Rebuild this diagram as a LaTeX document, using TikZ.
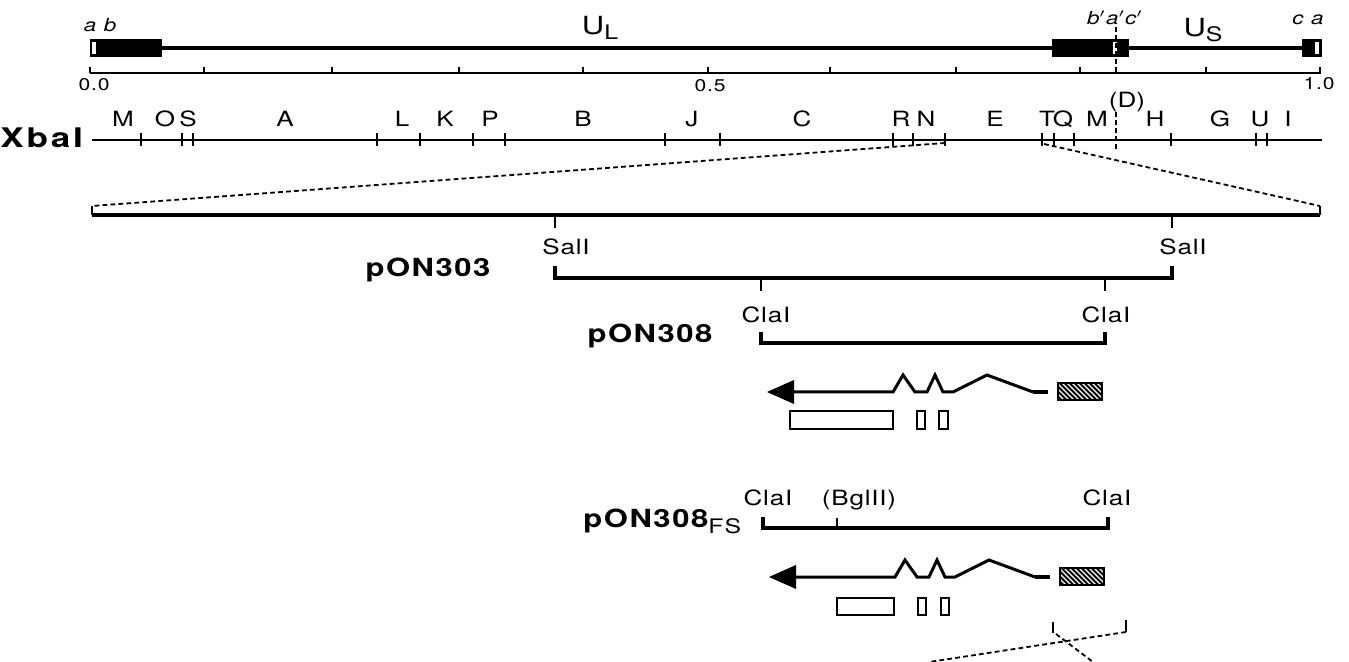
\documentclass[tikz,border=0pt]{standalone}
\usepackage{fontspec}
\setmainfont{TeX Gyre Heros}
% wide, old-style lettering
\newcommand\stretchtxt[1]{\scalebox{1.24}[1]{#1}}
\begin{document}
\begin{tikzpicture}[x=0.5pt,y=-0.5pt,
  txt/.style={inner sep=0pt, anchor=base, font=\fontsize{10.5}{12}\selectfont\addfontfeatures{LetterSpace=3}},
  maplbl/.style={inner sep=0pt, anchor=base, font=\fontsize{10.5}{12}\selectfont},
  boldlbl/.style={inner sep=0pt, anchor=base, font=\fontsize{12.5}{14}\selectfont\bfseries\addfontfeatures{LetterSpace=5}},
  scalelbl/.style={inner sep=0pt, anchor=base, font=\fontsize{8.5}{10}\selectfont\addfontfeatures{LetterSpace=4}},
  region/.style={inner sep=0pt, anchor=base, font=\fontsize{12.5}{14}\selectfont},
  seg/.style={inner sep=0pt, anchor=base, font=\fontsize{9}{11}\selectfont\itshape\addfontfeatures{LetterSpace=6}},
  bar/.style={line width=2.1pt},
  ruler/.style={line width=1pt},
  tick/.style={line width=1pt},
  clone/.style={line width=1.8pt},
  guide/.style={line width=0.9pt, dash pattern=on 2.4pt off 1.6pt},
  exon/.style={draw, line width=0.9pt, fill=white},
  mrna/.style={line width=1.5pt, line join=miter},
]
\useasboundingbox (0,0) rectangle (1349,662);

% ---------------- genome: U_L, U_S and the repeats ----------------
\fill (90,39) rectangle (162,57);
\filldraw[fill=white, draw=black, line width=0.5pt] (91.5,41.5) rectangle (96,55);
\fill (1052,39) rectangle (1129,57);
\fill[white] (1113,42) rectangle (1117,54);
\fill (1302,39) rectangle (1322,57);
\fill[white] (1315,42) rectangle (1319,54);
\coordinate (ulL) at (162,48); \coordinate (ulR) at (1052,48);
\coordinate (usL) at (1129,48); \coordinate (usR) at (1302,48);
\draw[bar] (ulL) -- (ulR);
\draw[bar] (usL) -- (usR);

\node[seg] (ab) at (100,32) {\stretchtxt{a b}};
\node[seg] (bac) at (1115,25) {\stretchtxt{b$'$a$'$c$'$}};
\node[seg] (ca) at (1308,25) {\stretchtxt{c a}};
\node[region] (UL) at (600,35) {\stretchtxt{U\raisebox{-0.35ex}{\fontsize{10}{12}\selectfont L}}};
\node[region] (US) at (1203,37) {\stretchtxt{U\raisebox{-0.35ex}{\fontsize{10}{12}\selectfont S}}};

% map units
\coordinate (r0) at (90,73); \coordinate (r1) at (1321,73);
\draw[ruler] (r0) -- (r1);
\foreach \x in {90,204,332,459,583,708,830,956,1080,1206,1320}
  \draw[tick] (\x,73) -- (\x,67);
\node[scalelbl] (s0) at (94,91) {\stretchtxt{0.0}};
\node[scalelbl] (s5) at (710,92) {\stretchtxt{0.5}};
\node[scalelbl] (s1) at (1319,90) {\stretchtxt{1.0}};

% position of the D fragment junction
\draw[guide] (1116,27) -- (1116,72);
\draw[guide] (1116,112) -- (1116,150);
\node[maplbl] (D) at (1127,108) {\stretchtxt{(D)}};

% ---------------- XbaI map ----------------
\node[inner sep=0pt, anchor=base west, font=\fontsize{13.5}{15}\selectfont\bfseries\addfontfeatures{LetterSpace=8}] (xba) at (0,148) {\scalebox{1.3}[1]{XbaI}};
\coordinate (x0) at (92,140); \coordinate (x1) at (1322,140);
\draw[line width=1.4pt] (x0) -- (x1);
\foreach \x in {141,182,193,377,420,473,505,665,720,893,913,945,1042,1054,1074,1171,1256,1267}
  \draw[tick] (\x,133) -- (\x,146);
\foreach \x/\t in {123/M,165/O,188/S,285/A,402/L,445/K,490/P,583/B,692/J,802/C,
                   901/R,926/N,995/E,1047/T,1063/Q,1097/M,1155/H,1220/G,1260/U,1288/I}
  \node[maplbl] at (\x,127) {\stretchtxt{\t}};

% ---------------- expanded region ----------------
\coordinate (nR) at (945,143); \coordinate (tL) at (1044,144);
\coordinate (eL) at (92,206); \coordinate (eR) at (1320,206);
\coordinate (bL) at (92,215); \coordinate (bR) at (1320,215);
\draw[guide] (nR) -- (eL);
\draw[guide] (tL) -- (eR);
\draw[tick] (eL) -- (bL);
\draw[tick] (eR) -- (bR);
\draw[line width=2pt] (bL) -- (bR);
\draw[tick] (555,215) -- (555,228);
\draw[tick] (1172,215) -- (1172,228);
\node[txt] (sal1) at (566,255) {\stretchtxt{SalI}};
\node[txt] (sal2) at (1183,255) {\stretchtxt{SalI}};

% pON303
\node[boldlbl] (p303) at (428,277) {\stretchtxt{pON303}};
\draw[clone] (555,266) -- (555,278) -- (1172,278) -- (1172,266);
\draw[tick] (761,278) -- (761,291);
\draw[tick] (1105,278) -- (1105,291);

% pON308
\node[txt] (cla1) at (766,323) {\stretchtxt{ClaI}};
\node[txt] (cla2) at (1106,323) {\stretchtxt{ClaI}};
\node[boldlbl] (p308) at (650,343) {\stretchtxt{pON308}};
\draw[clone] (761,332) -- (761,343) -- (1105,343) -- (1105,332);

% transcript and exons of pON308
\begin{scope}
  \fill (767,392) -- (794,380) -- (794,404) -- cycle;
  \draw[mrna] (792,392) -- (893,392) -- (903,375) -- (915,392) -- (927,392)
     -- (935,375) -- (943,392) -- (953,392) -- (987,375) -- (1033,392);
  \draw[line width=2pt] (1033,392) -- (1048,392);
  \begin{scope}
    \clip (1058,383) rectangle (1102,400);
    \fill (1058,383) rectangle (1102,400);
    \foreach \i in {0,...,12}
      \draw[white, line width=0.65pt] ({1042+\i*5},383) -- ++(17,17);
  \end{scope}
  \draw[line width=1pt] (1058,383) rectangle (1102,400);
  \draw[exon] (790,411) rectangle (893,429);
  \draw[exon] (917,411) rectangle (925,429);
  \draw[exon] (939,411) rectangle (948,429);
\end{scope}

% pON308FS
\node[txt] (cla3) at (768,505) {\stretchtxt{ClaI}};
\node[txt] (bgl) at (859,505) {\stretchtxt{(BglII)}};
\node[txt] (cla4) at (1107,505) {\stretchtxt{ClaI}};
\node[inner sep=0pt, anchor=base west] (p308fs) at (583,527)
  {\stretchtxt{\fontsize{12.5}{14}\selectfont\bfseries\addfontfeatures{LetterSpace=5}pON308\raisebox{-0.45ex}{\mdseries\fontsize{10}{12}\selectfont FS}}};
\draw[clone] (763,517) -- (763,528) -- (1108,528) -- (1108,517);
\draw[tick] (837,518) -- (837,528);

% transcript and exons of pON308FS
\begin{scope}[shift={(2,185)}]
  \fill (767,392) -- (794,380) -- (794,404) -- cycle;
  \draw[mrna] (792,392) -- (893,392) -- (903,375) -- (915,392) -- (927,392)
     -- (935,375) -- (943,392) -- (953,392) -- (987,375) -- (1033,392);
  \draw[line width=2pt] (1033,392) -- (1048,392);
  \begin{scope}
    \clip (1058,383) rectangle (1102,400);
    \fill (1058,383) rectangle (1102,400);
    \foreach \i in {0,...,12}
      \draw[white, line width=0.65pt] ({1042+\i*5},383) -- ++(17,17);
  \end{scope}
  \draw[line width=1pt] (1058,383) rectangle (1102,400);
  \draw[exon] (916,413) rectangle (924,430);
  \draw[exon] (939,413) rectangle (947,430);
\end{scope}
\draw[exon] (837,598) rectangle (894,615);

% further expansion below
\coordinate (fL) at (1053,622); \coordinate (fL2) at (1053,633);
\coordinate (fR) at (1126,620); \coordinate (fR2) at (1126,632);
\draw[tick] (fL) -- (fL2);
\draw[tick] (fR) -- (fR2);
\coordinate (gL) at (929,662); \coordinate (gR) at (1093,662);
\draw[guide] (fR2) -- (gL);
\draw[guide] (1056,634) -- (gR);
\end{tikzpicture}
\end{document}
